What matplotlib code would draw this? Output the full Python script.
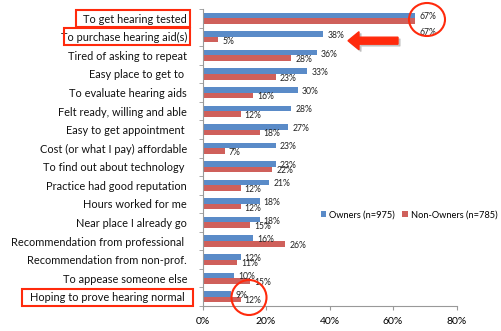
import matplotlib
matplotlib.use("Agg")
import matplotlib.pyplot as plt
import matplotlib.patches as mpatches
from matplotlib.transforms import IdentityTransform
from matplotlib.ticker import FuncFormatter
import numpy as np

plt.rcParams['font.family'] = ['Lato', 'DejaVu Sans']

reasons = [
    "To get hearing tested",
    "To purchase hearing aid(s)",
    "Tired of asking to repeat",
    "Easy place to get to ",
    "To evaluate hearing aids",
    "Felt ready, willing and able",
    "Easy to get appointment ",
    "Cost (or what I pay) affordable",
    "To find out about technology ",
    "Practice had good reputation",
    "Hours worked for me",
    "Near place I already go",
    "Recommendation from professional ",
    "Recommendation from non-prof.",
    "To appease someone else",
    "Hoping to prove hearing normal ",
]
owners = [67, 38, 36, 33, 30, 28, 27, 23, 23, 21, 18, 18, 16, 12, 10, 9]
non_owners = [67, 5, 28, 23, 16, 12, 18, 7, 22, 12, 12, 15, 26, 11, 15, 12]
series_names = ["Owners (n=975)", "Non-Owners (n=785)"]
x_ticks = [0, 20, 40, 60, 80]

BLUE = "#5a8bc8"
RED = "#cf605b"
ANNOT = "#ff2a0c"

W, H = 501, 331
fig = plt.figure(figsize=(W / 100, H / 100), dpi=100)
ax = fig.add_axes([202.5 / W, 1 - 306 / H, (456.5 - 202.5) / W, (306 - 9) / H])

y = np.arange(len(reasons))
bh = 0.3
ax.barh(y - bh / 2, owners, height=bh, color=BLUE, label=series_names[0])
ax.barh(y + bh / 2, non_owners, height=bh, color=RED, label=series_names[1])

ax.set_ylim(len(reasons) - 0.5, -0.5)
ax.set_xlim(0, 80)

# value labels just past the end of each bar
for i, (o, n) in enumerate(zip(owners, non_owners)):
    ax.annotate(f"{o}%", (o, i - bh / 2), xytext=(3, -1), textcoords="offset points",
                va="center", ha="left", fontsize=6.2, color="#222222")
    dy = -1 if i > 0 else -8
    ax.annotate(f"{n}%", (n, i + bh / 2), xytext=(3, dy), textcoords="offset points",
                va="center", ha="left", fontsize=6.2, color="#222222")

ax.set_yticks(y)
ax.set_yticklabels(reasons, fontsize=7.9, color="#111111")
ax.set_yticks(np.arange(len(reasons) + 1) - 0.5, minor=True)
ax.tick_params(axis="y", which="major", length=0, pad=11)
ax.tick_params(axis="y", which="minor", length=3, color="#999999")

ax.set_xticks(x_ticks)
ax.xaxis.set_major_formatter(FuncFormatter(lambda v, _: f"{int(v)}%"))
ax.tick_params(axis="x", length=3, color="#999999", labelsize=7.5, pad=5)

for s in ("top", "right"):
    ax.spines[s].set_visible(False)
for s in ("left", "bottom"):
    ax.spines[s].set_color("#999999")
    ax.spines[s].set_linewidth(0.8)

ax.legend(loc="center", bbox_to_anchor=(409 / W, 1 - 215 / H), bbox_transform=fig.transFigure,
          ncol=2, frameon=False, fontsize=6.7, handlelength=0.6, handleheight=0.6,
          handletextpad=0.3, columnspacing=0.8)

# highlight shapes, placed in pixel space
def px(x, yy):
    return (x, H - yy)

ident = IdentityTransform()
for (x0, y0, x1, y1) in [(75.5, 9.5, 190, 26.5), (63.5, 27.5, 190, 44.5), (22, 288.5, 192.5, 305.5)]:
    fig.add_artist(mpatches.Rectangle(px(x0, y1), x1 - x0, y1 - y0, fill=False,
                                      edgecolor=ANNOT, linewidth=1.5, transform=ident, zorder=10))

for (cx, cy, w, h) in [(427, 19.5, 36, 33), (249, 297.5, 35, 35)]:
    fig.add_artist(mpatches.Ellipse(px(cx, cy), w, h, fill=False, edgecolor=ANNOT,
                                    linewidth=1.5, transform=ident, zorder=10))

# arrow pointing at the second reason
fig.add_artist(mpatches.FancyArrow(400, H - 42.5, -50, 0, width=7, head_width=18, head_length=11,
                                   length_includes_head=True, color="#b0b0b0", alpha=0.6,
                                   transform=ident, zorder=9))
fig.add_artist(mpatches.FancyArrow(398, H - 40.7, -50, 0, width=7, head_width=18, head_length=11,
                                   length_includes_head=True, color=ANNOT,
                                   transform=ident, zorder=10))

fig.savefig("out.png", dpi=100)
